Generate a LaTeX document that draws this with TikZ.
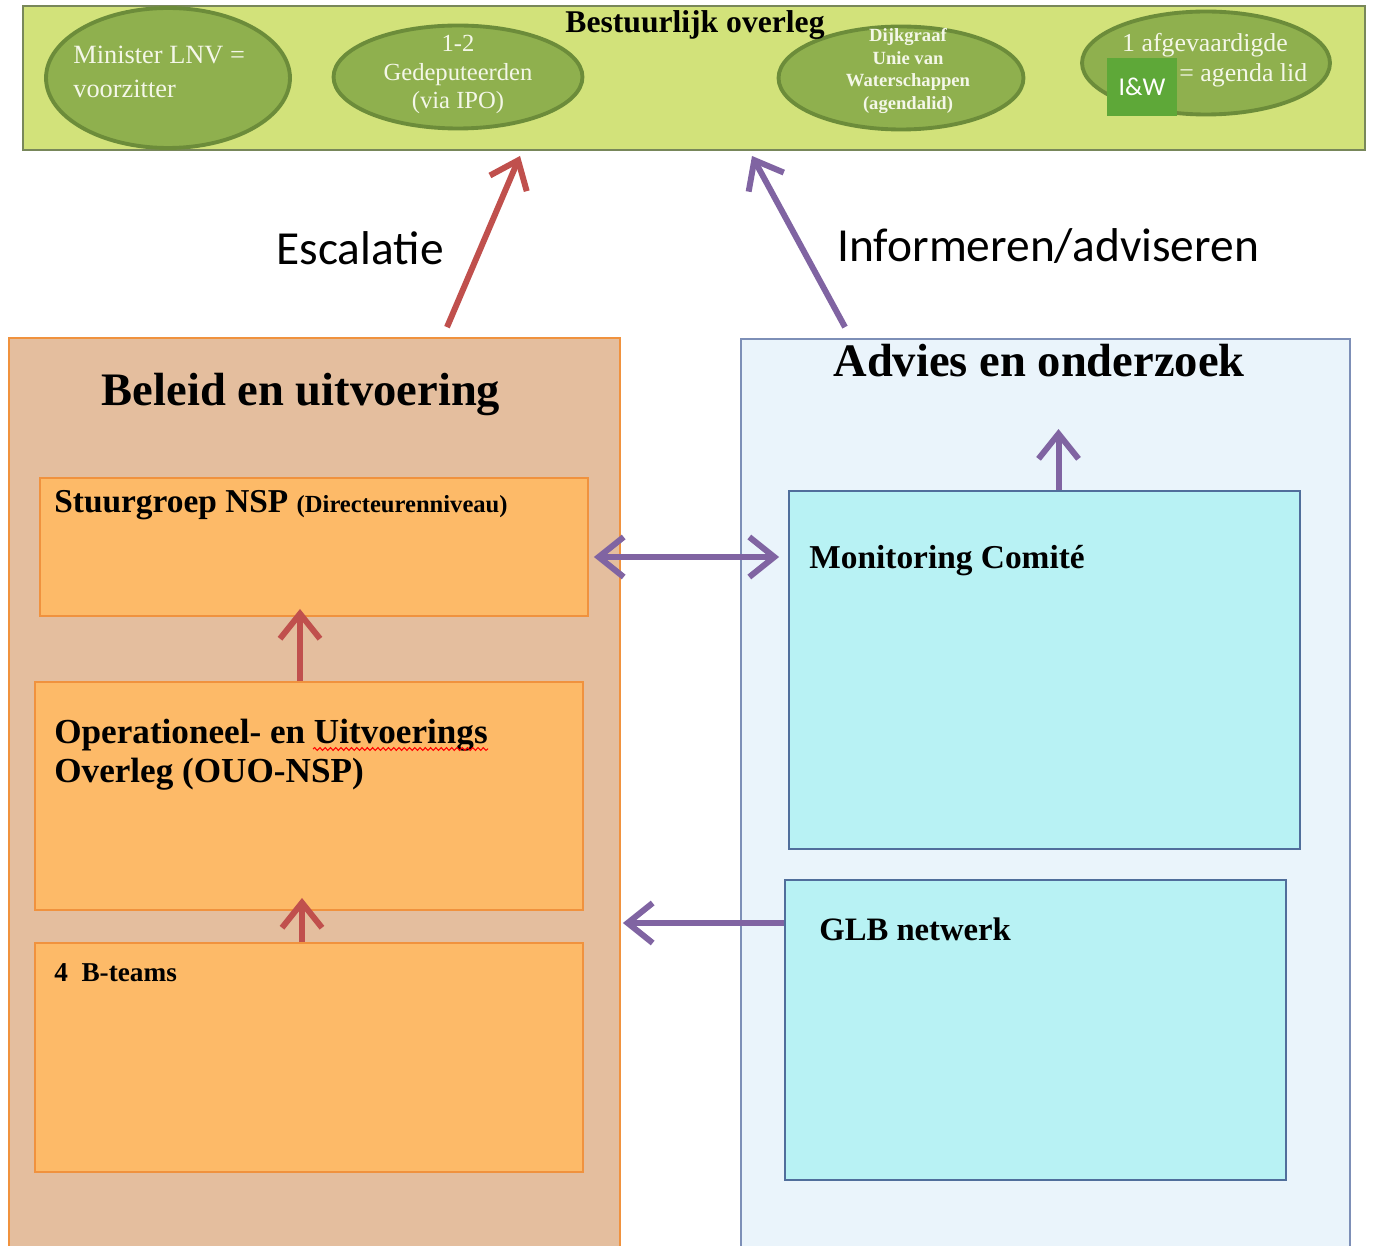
\documentclass[tikz,border=0pt]{standalone}
\usepackage{fontspec}
\setmainfont{Liberation Serif}
\newfontfamily\calibfont{Carlito}
\usetikzlibrary{shapes.geometric, arrows.meta, calc, decorations.pathmorphing}

\definecolor{bannergreen}{RGB}{210,226,122}
\definecolor{bannerline}{RGB}{120,135,90}
\definecolor{ovalgreen}{RGB}{143,176,78}
\definecolor{ovalline}{RGB}{108,140,58}
\definecolor{ovaltext}{RGB}{244,247,232}
\definecolor{iwgreen}{RGB}{94,168,56}
\definecolor{beleidfill}{RGB}{228,190,158}
\definecolor{orangeline}{RGB}{240,146,62}
\definecolor{orangefill}{RGB}{253,186,104}
\definecolor{adviesfill}{RGB}{234,244,251}
\definecolor{adviesline}{RGB}{125,143,183}
\definecolor{cyanfill}{RGB}{184,242,244}
\definecolor{cyanline}{RGB}{80,110,155}
\definecolor{arrowred}{RGB}{192,80,77}
\definecolor{arrowpurple}{RGB}{128,100,162}

\tikzset{
  oval/.style={ellipse, draw=ovalline, line width=2.2pt, fill=ovalgreen, inner sep=0pt},
  ovaltxt/.style={text=ovaltext, inner sep=0pt},
  frame/.style={rectangle, line width=1.1pt, inner sep=0pt},
  orangebox/.style={frame, draw=orangeline, fill=orangefill},
  cyanbox/.style={frame, draw=cyanline, fill=cyanfill},
  boxtxt/.style={inner sep=0pt, font=\bfseries},
  redarrow/.style={draw=arrowred, line width=3.4pt, -{Straight Barb[length=5mm,width=8mm]}},
  purplearrow/.style={draw=arrowpurple, line width=3.4pt, -{Straight Barb[length=5mm,width=8mm]}}
}

\begin{document}
\begin{tikzpicture}[x=0.02cm, y=-0.02cm]
\useasboundingbox (0,0) rectangle (1378,1246);
% Bestuurlijk overleg
    \node[frame, draw=bannerline, fill=bannergreen, minimum width=26.84cm, minimum height=2.88cm] (overleg) at (694,78) {};
    \node[oval, minimum width=4.88cm, minimum height=2.8cm] (minister) at (168,78) {};
    \node[oval, minimum width=4.98cm, minimum height=2.06cm] (gedep) at (458,77) {};
    \node[oval, minimum width=4.9cm, minimum height=2.06cm] (dijk) at (901,78) {};
    \node[oval, minimum width=4.96cm, minimum height=2.06cm] (afgev) at (1206,63) {};
    \node[boxtxt, anchor=base, font=\fontsize{18}{20}\selectfont\bfseries] (overlegtxt) at (695,33) {Bestuurlijk overleg};
    \node[ovaltxt, anchor=north west, align=left, font=\fontsize{15}{19.3}\selectfont] (ministertxt) at (73,46) {Minister LNV =\\voorzitter};
    \node[ovaltxt, anchor=north, align=center, font=\fontsize{14}{16.2}\selectfont] (gedeptxt) at (458,35) {1-2\\Gedeputeerden\\(via IPO)};
    \node[ovaltxt, anchor=north, align=center, font=\fontsize{10.6}{12.9}\selectfont\bfseries] (dijktxt) at (908,28) {Dijkgraaf\\Unie van\\Waterschappen\\(agendalid)};
    \node[ovaltxt, anchor=base, font=\fontsize{14.7}{17}\selectfont] (afgevtxt) at (1205,52) {1 afgevaardigde};
    \node[ovaltxt, anchor=base west, font=\fontsize{14.7}{17}\selectfont] (agendatxt) at (1179,82) {= agenda lid};
    \node[rectangle, fill=iwgreen, inner sep=0pt, minimum width=1.4cm, minimum height=1.16cm,
          text=white, font=\calibfont\fontsize{14.6}{16}\selectfont] (iw) at (1142,87) {I\&W};
% Beleid en uitvoering
    \node[frame, draw=orangeline, fill=beleidfill, minimum width=12.22cm, minimum height=18.44cm] (beleid) at (314.5,799) {};
    \node[boxtxt, anchor=base, font=\fontsize{26.5}{30}\selectfont\bfseries] (beleidtxt) at (301,405) {Beleid en uitvoering};
    \node[orangebox, minimum width=10.96cm, minimum height=2.76cm] (stuur) at (314,547) {};
    \node[orangebox, minimum width=10.96cm, minimum height=4.56cm] (ouo) at (309,796) {};
    \node[orangebox, minimum width=10.96cm, minimum height=4.58cm] (bteams) at (309,1057.5) {};
    \node[boxtxt, anchor=base west, font=\fontsize{19}{22}\selectfont\bfseries] (stuurtxt) at (54,512)
        {Stuurgroep NSP {\fontsize{14}{16}\selectfont(Directeurenniveau)}};
    \node[boxtxt, anchor=north west, align=left, font=\fontsize{20}{22}\selectfont\bfseries] (ouotxt) at (54,719)
        {Operationeel- en Uitvoerings\\Overleg (OUO-NSP)};
    \draw[red, line width=0.6pt, decorate, decoration={snake, amplitude=0.8pt, segment length=3pt}] (313,749) -- (488,749);
    \node[boxtxt, anchor=base west, font=\fontsize{15.5}{18}\selectfont\bfseries] (bteamstxt) at (54,981) {4\enspace B-teams};
% Advies en onderzoek
    \node[frame, draw=adviesline, fill=adviesfill, minimum width=12.18cm, minimum height=18.42cm] (advies) at (1045.5,799.5) {};
    \node[boxtxt, anchor=base, font=\fontsize{26.5}{30}\selectfont\bfseries] (adviestxt) at (1039,377) {Advies en onderzoek};
    \node[cyanbox, minimum width=10.22cm, minimum height=7.16cm] (monitoring) at (1044.5,670) {};
    \node[cyanbox, minimum width=10.02cm, minimum height=6cm] (glb) at (1035.5,1030) {};
    \node[boxtxt, anchor=base west, font=\fontsize{19}{22}\selectfont\bfseries] (monitoringtxt) at (809,568) {Monitoring Comité};
    \node[boxtxt, anchor=base west, font=\fontsize{18.6}{22}\selectfont\bfseries] (glbtxt) at (819,940) {GLB netwerk};
% Arrows
    \coordinate (monitoringtop) at ($(monitoring.north)+(14,-61)$);
    \draw[redarrow] ($(beleid.north)+(132.5,-10)$) -- ($(overleg.south)+(-174,5)$);
    \draw[purplearrow] ($(advies.north)+(-200.5,-11)$) -- ($(overleg.south)+(58,5)$);
    \draw[redarrow] ($(ouo.north)+(-9,0)$) -- ($(stuur.south)+(-14,-8)$);
    \draw[redarrow] ($(bteams.north)+(-7,0)$) -- ($(ouo.south)+(-7,-13)$);
    \draw[purplearrow] ($(monitoring.north)+(14,0)$) -- (monitoringtop);
    \draw[purplearrow, {Straight Barb[length=5mm,width=8mm]}-{Straight Barb[length=5mm,width=8mm]}] ($(stuur.east)+(5,10)$) -- ($(monitoring.west)+(-9,-113)$);
    \draw[purplearrow] ($(glb.west)+(0,-107)$) -- ($(beleid.east)+(2,124)$);
% Labels
    \node[anchor=base west, inner sep=0pt, font=\calibfont\fontsize{27}{30}\selectfont] (escalatietxt) at (276,265) {Escalatie};
    \node[anchor=base west, inner sep=0pt, font=\calibfont\fontsize{27}{30}\selectfont] (informtxt) at (837,262) {Informeren/adviseren};
\end{tikzpicture}
\end{document}
